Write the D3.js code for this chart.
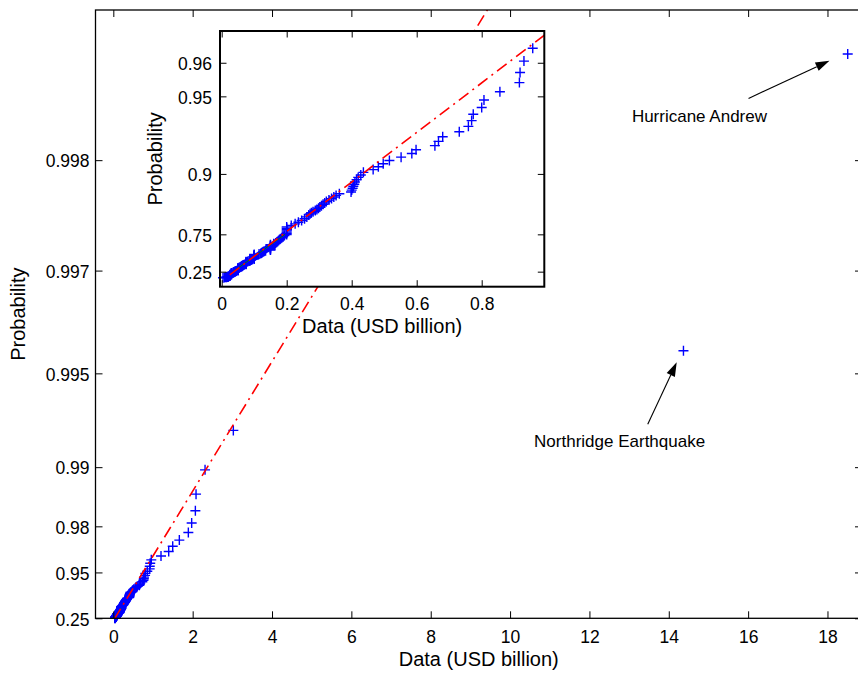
<!DOCTYPE html>
<html><head><meta charset="utf-8">
<script src="https://cdn.jsdelivr.net/npm/d3@7"></script>
<style>
body{margin:0;background:#fff}
svg{display:block}
text{font-family:"Liberation Sans",Arial,Helvetica,sans-serif;fill:#000}
</style>
</head><body>
<svg id="chart" width="858" height="673"></svg>
<script>
// ---------------- data ----------------
// loss values of the plotted events (USD billion), largest first
const lossBillion = [
 18.51, 14.37, 3.025, 2.312, 2.085, 2.068, 1.975, 1.891, 1.664, 1.497, 1.396, 1.202,
 0.957, 0.930, 0.918, 0.916, 0.856, 0.807, 0.800, 0.774, 0.769, 0.759, 0.731, 0.680,
 0.667, 0.656, 0.598, 0.585, 0.552, 0.516, 0.497, 0.482, 0.466, 0.436, 0.428, 0.420,
 0.415, 0.410, 0.408, 0.405, 0.403, 0.400, 0.398,
 0.362, 0.352, 0.345, 0.338, 0.330, 0.322, 0.317, 0.312, 0.307, 0.302, 0.298, 0.293,
 0.288, 0.281, 0.276, 0.272, 0.268,
 0.262, 0.255, 0.246, 0.236, 0.226, 0.214,
 0.200, 0.200, 0.200, 0.200, 0.200, 0.200, 0.200,
 0.193, 0.189, 0.185, 0.181, 0.178, 0.175,
 0.172, 0.169, 0.166, 0.160,
 0.150, 0.150, 0.150, 0.150, 0.150, 0.150, 0.150, 0.150, 0.150,
 0.135, 0.131, 0.128, 0.125, 0.123, 0.120, 0.115,
 0.100, 0.100, 0.100, 0.100, 0.100, 0.100, 0.100, 0.100, 0.100, 0.100, 0.100,
 0.095, 0.092, 0.090, 0.088, 0.086, 0.084, 0.080,
 0.075, 0.075, 0.075, 0.075, 0.075, 0.075, 0.075, 0.075, 0.075,
 0.070, 0.068, 0.066, 0.065,
 0.063, 0.061, 0.060, 0.058, 0.056, 0.053,
 0.050, 0.050, 0.050, 0.050, 0.050, 0.050, 0.050, 0.050, 0.050,
 0.045, 0.043, 0.041, 0.040, 0.040, 0.038, 0.036, 0.035,
 0.030, 0.030, 0.030, 0.030, 0.030, 0.030, 0.030,
 0.027, 0.025, 0.025, 0.025, 0.025, 0.025, 0.025, 0.025,
 0.022, 0.020, 0.020, 0.020, 0.018, 0.015, 0.012, 0.008, 0.004
];
// their plotted probabilities
const probability = [
 0.99853, 0.99560, 0.99267, 0.98974, 0.98680, 0.98387, 0.98094, 0.97801, 0.97507, 0.97214, 0.96921, 0.96628,
 0.96334, 0.96041, 0.95748, 0.95455, 0.95161, 0.94868, 0.94575, 0.94282, 0.93988, 0.93695, 0.93402, 0.93109,
 0.92815, 0.92522, 0.92229, 0.91935, 0.91642, 0.91349, 0.91056, 0.90762, 0.90469, 0.90176, 0.89883, 0.89589,
 0.89296, 0.89003, 0.88710, 0.88416, 0.88123, 0.87830, 0.87537,
 0.87243, 0.86950, 0.86657, 0.86364, 0.86070, 0.85777, 0.85484, 0.85191, 0.84897, 0.84604, 0.84311, 0.84018,
 0.83724, 0.83431, 0.83138, 0.82845, 0.82551,
 0.81965, 0.81378, 0.80792, 0.80205, 0.79619, 0.79032,
 0.78446, 0.77859, 0.77273, 0.76686, 0.76100, 0.75513, 0.74927,
 0.74340, 0.73754, 0.73167, 0.72581, 0.71994, 0.71408,
 0.70821, 0.70235, 0.69648, 0.69062,
 0.68475, 0.67889, 0.67302, 0.66716, 0.66129, 0.65543, 0.64956, 0.64370, 0.63783,
 0.63196, 0.62610, 0.62023, 0.61437, 0.60850, 0.60264, 0.59677,
 0.59091, 0.58504, 0.57918, 0.57331, 0.56745, 0.56158, 0.55572, 0.54985, 0.54399, 0.53812, 0.53226,
 0.52639, 0.52053, 0.51466, 0.50880, 0.50293, 0.49707, 0.49120,
 0.48534, 0.47947, 0.47361, 0.46774, 0.46188, 0.45601, 0.45015, 0.44428, 0.43842,
 0.43255, 0.42669, 0.42082, 0.41496,
 0.40616, 0.39736, 0.38856, 0.37977, 0.37097, 0.36217,
 0.35337, 0.34457, 0.33578, 0.32698, 0.31818, 0.30938, 0.30059, 0.29179, 0.28299,
 0.27419, 0.26540, 0.25660, 0.24780, 0.23900, 0.23021, 0.22141, 0.21261,
 0.20381, 0.19501, 0.18622, 0.17742, 0.16862, 0.15982, 0.15103,
 0.14223, 0.13343, 0.12463, 0.11584, 0.10704, 0.09824, 0.08944, 0.08065,
 0.07185, 0.06305, 0.05425, 0.04545, 0.03666, 0.02786, 0.01906, 0.01026, 0.00147
];
const mainXTicks = [0, 2, 4, 6, 8, 10, 12, 14, 16, 18];
const mainProbTicks = [0.25, 0.95, 0.98, 0.99, 0.995, 0.997, 0.998];
const insetXTicks = [0, 0.2, 0.4, 0.6, 0.8];
const insetProbTicks = [0.25, 0.75, 0.9, 0.95, 0.96];
const refLineLoss = [0.025, 20];        // fitted-distribution reference line (x = quantile)
const quartileLoss = [0.035, 0.195];    // data quartiles
const quartileProb = [0.25, 0.75];
const annotationLabels = ["Hurricane Andrew", "Northridge Earthquake"];

// fitted generalized Pareto parameters defining the probability scale
const gpShape = 0.665, gpScale = 0.0769, gpThreshold = 0.0135;
function quantile(p) { return gpThreshold + gpScale / gpShape * (Math.pow(1 - p, -gpShape) - 1); }

// ---------------- layout ----------------
const FONT = '"Liberation Sans",Arial,Helvetica,sans-serif';
const mainCfg = {
  id: "main", left: 95.5, top: 10, right: 862, bottom: 618.3,
  xDomain: [-0.449, 18.87], qDomain: [quantile(0.25), 9.425],
  xTicks: mainXTicks, probTicks: mainProbTicks, tick: 7, boxWidth: 1.3, fill: false,
  yLabelX: 25, xLabelY: 665.7, yLabelGap: 6, xLabelPad: 12.6
};
const insetCfg = {
  id: "inset", left: 220, top: 31, right: 544.3, bottom: 286.7,
  xDomain: [-0.0052, 0.9926], qDomain: [-0.0228, 1.0095],
  xTicks: insetXTicks, probTicks: insetProbTicks, tick: 6.5, boxWidth: 2, fill: true,
  yLabelX: 162, xLabelY: 333.3, yLabelGap: 8, xLabelPad: 10.9
};
const annotations = [
  {label: annotationLabels[0], tip: [18.05, 8.642], tail: [16.01, 8.061], text: [13.07, 7.70]},
  {label: annotationLabels[1], tip: [14.20, 3.988], tail: [13.47, 3.031], text: [10.605, 2.689]}
];

const svg = d3.select("#chart");
svg.append("rect").attr("width", 858).attr("height", 673).attr("fill", "#fff");
const defs = svg.append("defs");

function drawPanel(cfg) {
  const g = svg.append("g");
  const x = d3.scaleLinear().domain(cfg.xDomain).range([cfg.left, cfg.right]);
  const y = d3.scaleLinear().domain(cfg.qDomain).range([cfg.bottom, cfg.top]);
  const w = cfg.right - cfg.left, h = cfg.bottom - cfg.top;
  defs.append("clipPath").attr("id", "clip-" + cfg.id)
    .append("rect").attr("x", cfg.left).attr("y", cfg.top).attr("width", w).attr("height", h);
  if (cfg.fill) g.append("rect").attr("x", cfg.left).attr("y", cfg.top).attr("width", w).attr("height", h).attr("fill", "#fff");

  const pts = lossBillion.map((v, i) => ({x: v, q: quantile(probability[i])}))
    .filter(d => d.x >= cfg.xDomain[0] && d.x <= cfg.xDomain[1] && d.q >= cfg.qDomain[0] && d.q <= cfg.qDomain[1]);
  g.append("g").selectAll("path").data(pts).join("path")
    .attr("d", d => `M${x(d.x) - 5},${y(d.q)}h10M${x(d.x)},${y(d.q) - 5}v10`)
    .attr("stroke", "#0000ff").attr("stroke-width", 1.4).attr("fill", "none");

  const clipped = g.append("g").attr("clip-path", `url(#clip-${cfg.id})`);
  clipped.append("line")
    .attr("x1", x(quartileLoss[0])).attr("y1", y(quantile(quartileProb[0])))
    .attr("x2", x(quartileLoss[1])).attr("y2", y(quantile(quartileProb[1])))
    .attr("stroke", "#008000").attr("stroke-width", 1);
  clipped.append("line")
    .attr("x1", x(refLineLoss[0])).attr("y1", y(refLineLoss[0]))
    .attr("x2", x(refLineLoss[1])).attr("y2", y(refLineLoss[1]))
    .attr("stroke", "#ff0000").attr("stroke-width", 1.6).attr("stroke-dasharray", "12,5,2,5");

  const qTicks = cfg.probTicks.map(quantile);
  const style = sel => {
    sel.select(".domain").remove();
    sel.attr("font-size", 17.5).attr("font-family", FONT);
    sel.selectAll(".tick line").attr("stroke", "#000").attr("stroke-width", 1);
    sel.selectAll(".tick text").attr("fill", "#000");
  };
  g.append("g").attr("transform", `translate(0,${cfg.bottom})`)
    .call(d3.axisBottom(x).tickValues(cfg.xTicks).tickSize(-cfg.tick).tickPadding(cfg.xLabelPad).tickFormat(d => String(d)))
    .call(style);
  g.append("g").attr("transform", `translate(0,${cfg.top})`)
    .call(d3.axisTop(x).tickValues(cfg.xTicks).tickSize(-cfg.tick).tickFormat(""))
    .call(style);
  g.append("g").attr("transform", `translate(${cfg.left},0)`)
    .call(d3.axisLeft(y).tickValues(qTicks).tickSize(-cfg.tick).tickPadding(cfg.yLabelGap).tickFormat((d, i) => String(cfg.probTicks[i])))
    .call(style)
    .call(s => s.selectAll(".tick text").attr("dy", "0.39em"));
  g.append("g").attr("transform", `translate(${cfg.right},0)`)
    .call(d3.axisRight(y).tickValues(qTicks).tickSize(-cfg.tick).tickFormat(""))
    .call(style);

  g.append("rect").attr("x", cfg.left).attr("y", cfg.top).attr("width", w).attr("height", h)
    .attr("fill", "none").attr("stroke", "#000").attr("stroke-width", cfg.boxWidth);

  g.append("text").attr("x", (cfg.left + cfg.right) / 2).attr("y", cfg.xLabelY)
    .attr("text-anchor", "middle").attr("font-size", 20).text("Data (USD billion)");
  g.append("text").attr("transform", `translate(${cfg.yLabelX},${(cfg.top + cfg.bottom) / 2}) rotate(-90)`)
    .attr("text-anchor", "middle").attr("font-size", 20).text("Probability");
  return {x, y};
}

const M = drawPanel(mainCfg);

// annotations (main axes data coordinates)
annotations.forEach(a => {
  const tx = M.x(a.tip[0]), ty = M.y(a.tip[1]);
  const sx = M.x(a.tail[0]), sy = M.y(a.tail[1]);
  const dx = tx - sx, dy = ty - sy, L = Math.hypot(dx, dy);
  const ux = dx / L, uy = dy / L, hl = 14, hw = 4.5;
  const bx = tx - ux * hl, by = ty - uy * hl;
  svg.append("line").attr("x1", sx).attr("y1", sy).attr("x2", bx).attr("y2", by)
    .attr("stroke", "#000").attr("stroke-width", 1.1);
  svg.append("path")
    .attr("d", `M${tx},${ty}L${bx - uy * hw},${by + ux * hw}L${bx + uy * hw},${by - ux * hw}Z`)
    .attr("fill", "#000");
  svg.append("text").attr("x", M.x(a.text[0])).attr("y", M.y(a.text[1]))
    .attr("font-size", 17).text(a.label);
});

drawPanel(insetCfg);
</script>
</body></html>
